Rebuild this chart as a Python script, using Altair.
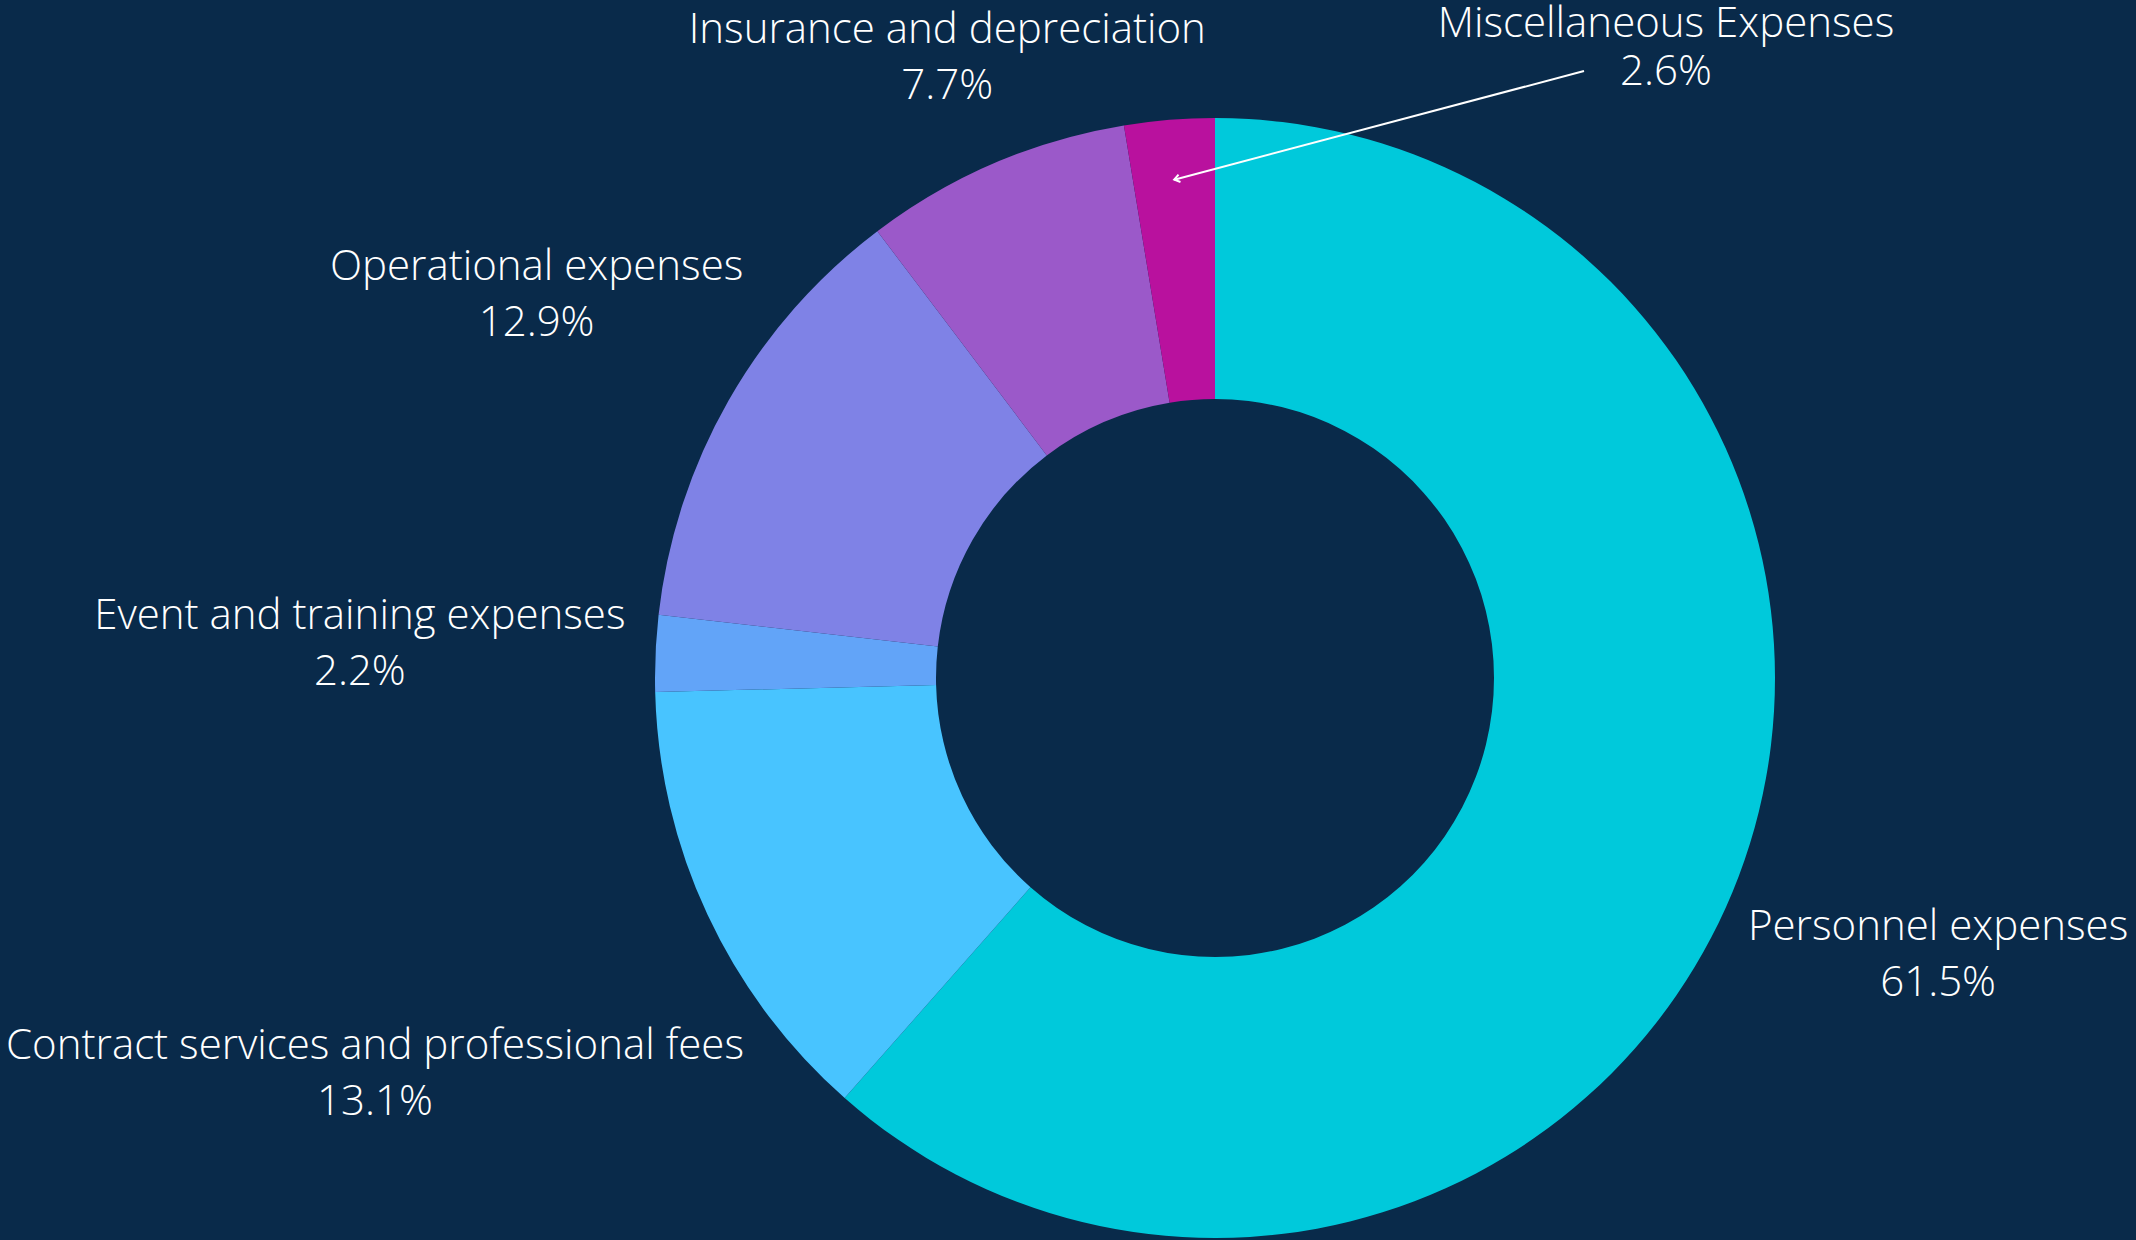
import math
import altair as alt
import pandas as pd

# ---- data ----
categories = [
    "Personnel expenses",
    "Contract services and professional fees",
    "Event and training expenses",
    "Operational expenses",
    "Insurance and depreciation",
    "Miscellaneous Expenses",
]
shares = [61.5, 13.1, 2.2, 12.9, 7.7, 2.6]
colors = ["#00C9DB", "#48C4FF", "#62A4F8", "#7F82E6", "#9B59C9", "#B9119E"]

# ---- layout config ----
W, H = 2136, 1240
CX, CY = 1215, 678
R_OUT, R_IN = 560, 279
BG = "#092A4A"
FONT = "Open Sans"
FS = 42
LH_MAIN, LH_MISC = 56, 48
label_radius = {
    "Personnel expenses": 773,
    "Contract services and professional fees": 927,
    "Event and training expenses": 856,
    "Operational expenses": 781,
    "Insurance and depreciation": 679,
}
label_shift_y = 4
misc_label_offset = (451, -630)   # label centre relative to donut centre
misc_arrow_start = (369, -607)    # arrow tail relative to donut centre
misc_arrow_radius = 500

# ---- derived ----
total = sum(shares)
mid_angle = {}
cum = 0.0
for c, v in zip(categories, shares):
    mid_angle[c] = (cum + v / 2) / total * 2 * math.pi
    cum += v

arc_df = pd.DataFrame({
    "category": categories,
    "value": shares,
    "idx": list(range(len(categories))),
})

main_rows, misc_rows = [], []
for c, v in zip(categories, shares):
    txt = f"{c}\n{v:.1f}%"
    if c in label_radius:
        a = mid_angle[c]
        r = label_radius[c]
        main_rows.append({"lx": CX + r * math.sin(a),
                          "ly": CY - r * math.cos(a) - LH_MAIN / 2 + label_shift_y, "t": txt})
    else:
        misc_rows.append({"lx": CX + misc_label_offset[0],
                          "ly": CY + misc_label_offset[1] - LH_MISC / 2, "t": txt})
main_df = pd.DataFrame(main_rows)
misc_df = pd.DataFrame(misc_rows)

a = mid_angle["Miscellaneous Expenses"]
ex = CX + misc_arrow_radius * math.sin(a)
ey = CY - misc_arrow_radius * math.cos(a)
sx = CX + misc_arrow_start[0]
sy = CY + misc_arrow_start[1]
ang = math.degrees(math.atan2(ey - sy, ex - sx)) % 360
arrow_df = pd.DataFrame({"x": [sx], "y": [sy], "x2": [ex], "y2": [ey], "ang": [ang]})

arcs = alt.Chart(arc_df).mark_arc(innerRadius=R_IN, outerRadius=R_OUT).encode(
    theta=alt.Theta("value:Q", stack=True),
    order=alt.Order("idx:Q"),
    color=alt.Color("category:N", scale=alt.Scale(domain=categories, range=colors), legend=None),
    x=alt.value(CX),
    y=alt.value(CY),
)

def label_layer(df, lh):
    return alt.Chart(df).mark_text(
        font=FONT, fontSize=FS, fontWeight=300, color="white", align="center",
        baseline="middle", lineBreak="\n", lineHeight=lh,
    ).encode(
        x=alt.X("lx:Q", scale=None), y=alt.Y("ly:Q", scale=None), text="t:N"
    )

arrow_line = alt.Chart(arrow_df).mark_rule(color="white", strokeWidth=2).encode(
    x=alt.X("x:Q", scale=None), y=alt.Y("y:Q", scale=None),
    x2="x2:Q", y2="y2:Q",
)
arrow_head = alt.Chart(arrow_df).mark_point(
    shape="M -1 -0.7 L 0 0 L -1 0.7", filled=False, color="white", strokeWidth=2, size=120, opacity=1,
).encode(
    x=alt.X("x2:Q", scale=None), y=alt.Y("y2:Q", scale=None), angle=alt.Angle("ang:Q", scale=None),
)

chart = alt.layer(
    arcs, arrow_line, arrow_head, label_layer(main_df, LH_MAIN), label_layer(misc_df, LH_MISC)
).properties(
    width=W, height=H, background=BG, padding=0,
    autosize=alt.AutoSizeParams(type="none"),
).configure_view(stroke=None)

chart.save("out.html", embed_options={"renderer": "svg", "actions": False})
